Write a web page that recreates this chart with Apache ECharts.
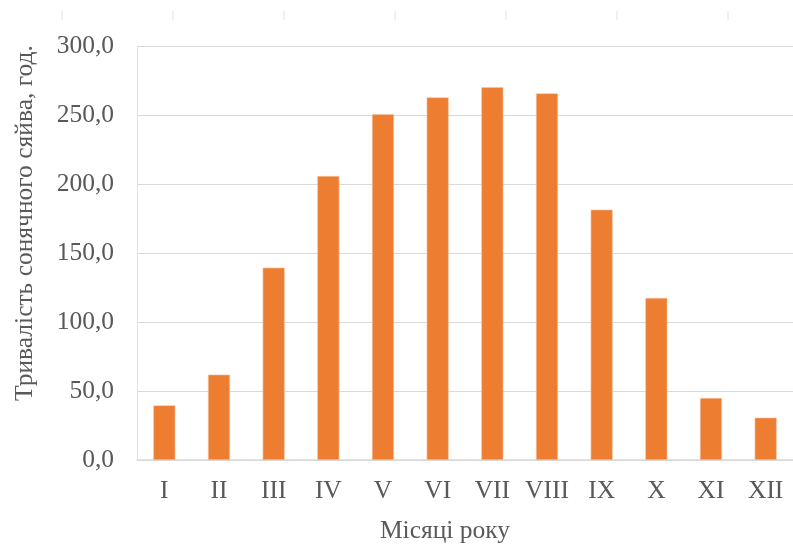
<!DOCTYPE html>
<html>
<head>
<meta charset="utf-8">
<script src="https://cdn.jsdelivr.net/npm/echarts@6/dist/echarts.min.js"></script>
<style>
html,body{margin:0;padding:0;background:#fff;}
#chart{width:793px;height:546px;}
</style>
</head>
<body>
<div id="chart"></div>
<script>
const months = ['I','II','III','IV','V','VI','VII','VIII','IX','X','XI','XII'];
const sunshineHours = [39.6, 61.9, 139.4, 205.8, 250.5, 262.8, 270.1, 265.7, 181.4, 117.4, 44.9, 30.7];
const yTicks = {min: 0, max: 300, interval: 50};
const yTitle = 'Тривалість сонячного сяйва, год.';
const xTitle = 'Місяці року';

const FONT = '"Liberation Serif", "Times New Roman", serif';
const TXT = '#595959';
const FS = 25.5;

// faint tick marks of a neighbouring chart cropped at the top edge
const topMarks = [62, 173, 284, 395, 506, 617, 728].map(x => ({
  type: 'line', silent: true,
  shape: {x1: x, y1: 11, x2: x, y2: 20},
  style: {stroke: '#E0E0E0', lineWidth: 1}
}));

const chart = echarts.init(document.getElementById('chart'), null, {renderer: 'canvas'});
chart.setOption({
  animation: false,
  backgroundColor: '#ffffff',
  grid: {left: 137, top: 46, width: 665, height: 414, containLabel: false},
  xAxis: {
    type: 'category',
    data: months,
    axisLine: {show: true, lineStyle: {color: '#D9D9D9', width: 1.5}},
    axisTick: {show: false},
    axisLabel: {color: TXT, fontFamily: FONT, fontSize: FS, margin: 18, interval: 0, hideOverlap: false}
  },
  yAxis: {
    type: 'value',
    min: yTicks.min, max: yTicks.max, interval: yTicks.interval,
    axisLine: {show: true, lineStyle: {color: '#E3E3E3', width: 1}},
    axisTick: {show: false},
    splitLine: {show: true, lineStyle: {color: '#D9D9D9', width: 1}},
    axisLabel: {
      color: TXT, fontFamily: FONT, fontSize: FS, margin: 23,
      formatter: v => v.toFixed(1).replace('.', ',')
    }
  },
  series: [{
    type: 'bar',
    data: sunshineHours,
    barWidth: 22,
    itemStyle: {color: '#ED7D31', borderColor: '#F6C4A2', borderWidth: 0.6}
  }],
  graphic: topMarks.concat([
    {type: 'text', x: 445, y: 531,
     style: {text: xTitle, fill: TXT, font: FS + 'px ' + FONT, textAlign: 'center', textVerticalAlign: 'middle'}},
    {type: 'text', x: 25, y: 223, rotation: Math.PI / 2,
     style: {text: yTitle, fill: TXT, font: FS + 'px ' + FONT, textAlign: 'center', textVerticalAlign: 'middle'}}
  ])
});
</script>
</body>
</html>
